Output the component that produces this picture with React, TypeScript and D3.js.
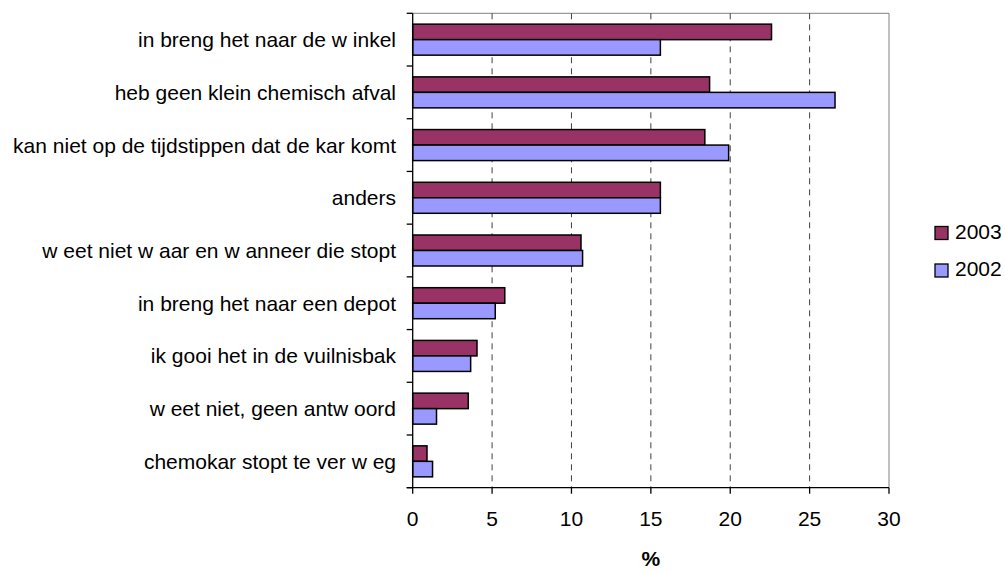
import React from "react";
import * as d3 from "d3";

const categories = [
  "in breng het naar de w inkel",
  "heb geen klein chemisch afval",
  "kan niet op de tijdstippen dat de kar komt",
  "anders",
  "w eet niet w aar en w anneer die stopt",
  "in breng het naar een depot",
  "ik gooi het in de vuilnisbak",
  "w eet niet, geen antw oord",
  "chemokar stopt te ver w eg",
];
const values2003 = [22.6, 18.7, 18.4, 15.6, 10.6, 5.8, 4.05, 3.5, 0.9];
const values2002 = [15.6, 26.6, 19.9, 15.6, 10.7, 5.2, 3.65, 1.5, 1.25];
const seriesNames = ["2003", "2002"];
const seriesColors = ["#993366", "#9999FF"];
const xTicks = [0, 5, 10, 15, 20, 25, 30];
const axisTitle = "%";

const W = 1005;
const H = 571;
const left = 412.7;
const right = 889;
const top = 13.3;
const bottom = 487.7;
const FONT = "'Liberation Sans', Arial, sans-serif";
const FS = 21;

export default function App() {
  const x = d3.scaleLinear().domain([0, 30]).range([left, right]);
  const y0 = d3.scaleBand<string>().domain(categories).range([top, bottom]).padding(0);
  const y1 = d3
    .scaleBand<string>()
    .domain(seriesNames)
    .range([0, y0.bandwidth()])
    .paddingInner(0)
    .paddingOuter(0.7);
  const series = [values2003, values2002];
  const boundaries = categories.map((c) => y0(c) as number).concat([bottom]);

  return (
    <svg
      width={W}
      height={H}
      style={{ position: "absolute", left: 0, top: 0, background: "#fff" }}
      fontFamily={FONT}
    >
      {/* plot frame top/right grey */}
      <line x1={left} x2={right} y1={top} y2={top} stroke="#808080" strokeWidth={1} />
      <line x1={right} x2={right} y1={top} y2={bottom} stroke="#808080" strokeWidth={1} />
      {/* gridlines */}
      {xTicks
        .filter((t) => t > 0 && t < 30)
        .map((t) => (
          <line
            key={"g" + t}
            x1={x(t)}
            x2={x(t)}
            y1={top}
            y2={bottom}
            stroke="#404040"
            strokeWidth={1}
            strokeDasharray="6,5"
          />
        ))}
      {/* bars */}
      {categories.map((c, i) =>
        seriesNames.map((s, j) => (
          <rect
            key={c + s}
            x={x(0)}
            y={(y0(c) as number) + (y1(s) as number)}
            width={x(series[j][i]) - x(0)}
            height={y1.bandwidth()}
            fill={seriesColors[j]}
            stroke="#000"
            strokeWidth={1.5}
          />
        ))
      )}
      {/* axes */}
      <line x1={left} x2={left} y1={top} y2={bottom} stroke="#000" strokeWidth={1.3} />
      <line x1={left - 6} x2={right} y1={bottom} y2={bottom} stroke="#000" strokeWidth={1.3} />
      {boundaries.map((b, i) => (
        <line key={"yt" + i} x1={left - 6} x2={left} y1={b} y2={b} stroke="#000" strokeWidth={1.3} />
      ))}
      {xTicks.map((t) => (
        <line key={"xt" + t} x1={x(t)} x2={x(t)} y1={bottom} y2={bottom + 6} stroke="#000" strokeWidth={1.3} />
      ))}
      {xTicks.map((t) => (
        <text
          key={"xl" + t}
          x={x(t)}
          y={518.5}
          textAnchor="middle"
          dominantBaseline="central"
          fontSize={FS}
          fill="#000"
        >
          {t}
        </text>
      ))}
      {categories.map((c) => (
        <text
          key={"yl" + c}
          x={396}
          y={(y0(c) as number) + y0.bandwidth() / 2}
          textAnchor="end"
          dominantBaseline="central"
          fontSize={FS}
          fill="#000"
        >
          {c}
        </text>
      ))}
      <text
        x={(left + right) / 2}
        y={566}
        textAnchor="middle"
        fontSize={21}
        fontWeight="bold"
        fill="#000"
      >
        {axisTitle}
      </text>
      {/* legend */}
      {seriesNames.map((s, j) => (
        <g key={"lg" + s}>
          <rect
            x={935}
            y={226.5 + j * 37.5}
            width={13}
            height={13}
            fill={seriesColors[j]}
            stroke="#000"
            strokeWidth={1.3}
          />
          <text x={955} y={231 + j * 37.5} dominantBaseline="central" fontSize={FS} fill="#000">
            {s}
          </text>
        </g>
      ))}
    </svg>
  );
}
